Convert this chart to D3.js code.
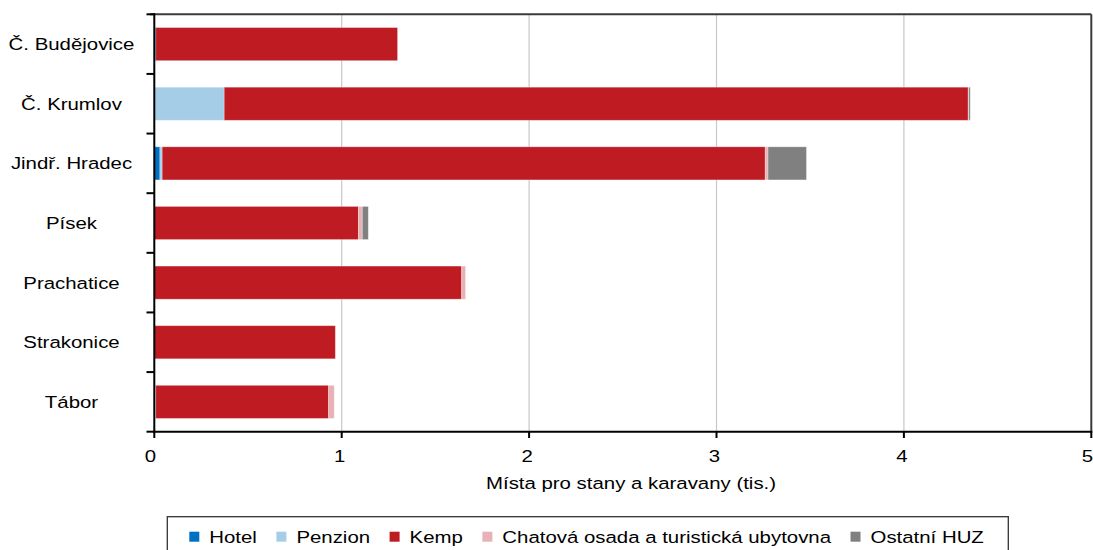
<!DOCTYPE html>
<html>
<head>
<meta charset="utf-8">
<script src="https://cdn.jsdelivr.net/npm/d3@7"></script>
<style>
  body { margin: 0; background: #fff; }
  text { font-family: "Liberation Sans", Arial, sans-serif; fill: #000; }
</style>
</head>
<body>
<div id="chart"></div>
<script>
// okresy
var categories = ["Č. Budějovice", "Č. Krumlov", "Jindř. Hradec", "Písek", "Prachatice", "Strakonice", "Tábor"];
var seriesNames = ["Hotel", "Penzion", "Kemp", "Chatová osada a turistická ubytovna", "Ostatní HUZ"];
var seriesColors = ["#0070c0", "#a6cde8", "#be1b22", "#e8b1b5", "#808080"];

// místa pro stany a karavany (tis.)
var hotel   = [0.008, 0,     0.030, 0,     0,     0,     0.005];
var penzion = [0,     0.373, 0.012, 0,     0,     0,     0.003];
var kemp    = [1.290, 3.970, 3.218, 1.089, 1.640, 0.966, 0.922];
var chatova = [0,     0.003, 0.015, 0.021, 0.021, 0,     0.030];
var ostatni = [0,     0.008, 0.205, 0.032, 0,     0,     0];

var xTicks = [0, 1, 2, 3, 4, 5];

var width = 1093, height = 550;
var fs = 17, sx = 1.2;

var rows = categories.map(function(c, i) {
  return { cat: c, s0: hotel[i], s1: penzion[i], s2: kemp[i], s3: chatova[i], s4: ostatni[i] };
});
var stack = d3.stack().keys(["s0", "s1", "s2", "s3", "s4"]);
var layers = stack(rows);

var svg = d3.select("#chart").append("svg")
  .attr("width", width).attr("height", height);

var x = d3.scaleLinear().domain([0, 5]).range([154.3, 1091.3]);
var y = d3.scaleBand().domain(categories).range([14.3, 431.7])
  .paddingInner(0.445).paddingOuter(0.2225);

// pomocná funkce pro text (roztažený vodorovně)
function label(g, tx, ty, str, anchor, scale) {
  return g.append("text")
    .attr("transform", "translate(" + tx + "," + ty + ") scale(" + (scale || sx) + ",1)")
    .attr("text-anchor", anchor || "middle")
    .attr("font-size", fs + "px")
    .text(str);
}

// mřížka
svg.append("g").selectAll("line").data(xTicks.slice(1, 5)).enter().append("line")
  .attr("x1", function(d) { return x(d); })
  .attr("x2", function(d) { return x(d); })
  .attr("y1", 14.3).attr("y2", 431.7)
  .attr("stroke", "#c8c8c8").attr("stroke-width", 1.2);

// sloupce
svg.append("g").selectAll("g").data(layers).enter().append("g")
  .attr("fill", function(d, i) { return seriesColors[i]; })
  .selectAll("rect").data(function(d) { return d; }).enter().append("rect")
  .attr("x", function(d) { return x(d[0]); })
  .attr("width", function(d) { return Math.max(0, x(d[1]) - x(d[0])); })
  .attr("y", function(d) { return y(d.data.cat); })
  .attr("height", y.bandwidth())
  .attr("stroke", "#ffffff").attr("stroke-opacity", 0.35).attr("stroke-width", 0.8);

// rámeček
svg.append("line").attr("x1", 150).attr("x2", 1091.3).attr("y1", 14.3).attr("y2", 14.3)
  .attr("stroke", "#3a3a3a").attr("stroke-width", 2);
svg.append("line").attr("x1", 1091.3).attr("x2", 1091.3).attr("y1", 14.3).attr("y2", 431.7)
  .attr("stroke", "#3a3a3a").attr("stroke-width", 2);

// osa y
var yTicks = d3.range(categories.length + 1).map(function(i) { return 14.3 + i * y.step(); });
svg.append("g").selectAll("line").data(yTicks).enter().append("line")
  .attr("x1", 146.5).attr("x2", 154.3)
  .attr("y1", function(d) { return d; }).attr("y2", function(d) { return d; })
  .attr("stroke", "#000").attr("stroke-width", 2);
svg.append("line").attr("x1", 154.3).attr("x2", 154.3).attr("y1", 13.3).attr("y2", 432.7)
  .attr("stroke", "#000").attr("stroke-width", 2);
var gy = svg.append("g");
categories.forEach(function(c) {
  label(gy, 71.5, y(c) + y.bandwidth() / 2 + 6, c);
});

// osa x
svg.append("line").attr("x1", 153.3).attr("x2", 1092.3).attr("y1", 431.7).attr("y2", 431.7)
  .attr("stroke", "#000").attr("stroke-width", 2);
var gx = svg.append("g");
xTicks.forEach(function(t) {
  gx.append("line").attr("x1", x(t)).attr("x2", x(t)).attr("y1", 431.7).attr("y2", 438)
    .attr("stroke", "#000").attr("stroke-width", 2);
  label(gx, x(t) - (t === 0 ? 4 : (t === 5 ? 4 : 2)), 462, String(t));
});
label(svg, 631, 489, "Místa pro stany a karavany (tis.)");

// legenda
var lg = svg.append("g");
lg.append("rect").attr("x", 167.3).attr("y", 516.7).attr("width", 841).attr("height", 40)
  .attr("fill", "#fff").attr("stroke", "#333").attr("stroke-width", 1.3);
var lx = 189.3;
seriesNames.forEach(function(n, i) {
  lg.append("rect").attr("x", lx).attr("y", 531.7).attr("width", 10).attr("height", 10)
    .attr("fill", seriesColors[i]);
  var t = label(lg, lx + 20, 543, n, "start", 1.2);
  lx += 20 + t.node().getComputedTextLength() * 1.2 + 19.5;
});
</script>
</body>
</html>
